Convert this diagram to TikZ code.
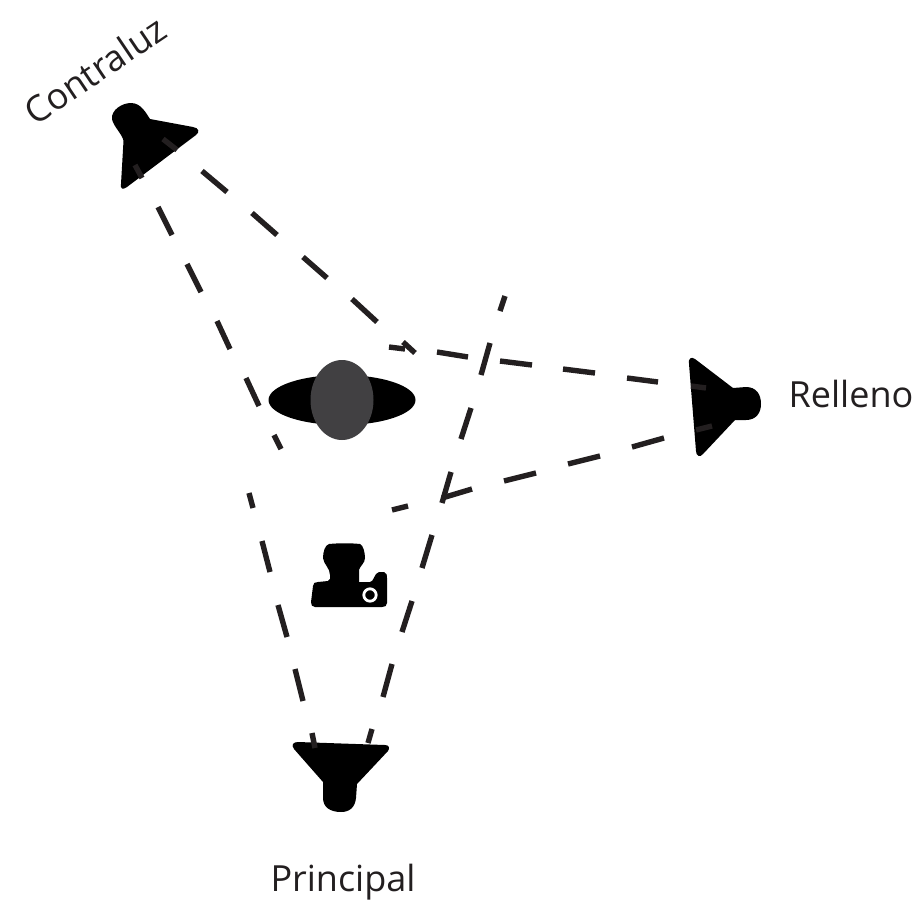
\documentclass[tikz,border=0pt]{standalone}
\usepackage{fontspec}
\setmainfont{Open Sans}
\definecolor{dashc}{HTML}{231F20}
\definecolor{headc}{HTML}{414042}
\tikzset{
  beam/.style={draw=dashc,line width=5.4pt},
  solidblack/.style={fill=black,draw=none},
  lbl/.style={font=\fontsize{36}{44}\selectfont,text=dashc,inner sep=0pt},
}
\begin{document}
\begin{tikzpicture}[x=1pt,y=-1pt]
\useasboundingbox (0,0) rectangle (923,905);
\fill[white] (0,0) rectangle (923,905);
% lamps
\path[solidblack] (150,119) -- (193,127) .. controls (199,128) and (200,132) .. (196,135) -- (127,187) .. controls (123,190) and (120,189) .. (121,184) -- (123.5,141) .. controls (123,135) and (113,126) .. (112,119) .. controls (111,110) and (122,103) .. (131,103) .. controls (141,103) and (146,113) .. (150,119) -- cycle;
\path[solidblack] (733,388) -- (695,359) .. controls (691,356) and (688,359) .. (689,364) -- (696,451) .. controls (696,456) and (700,458) .. (703,454) -- (735,420) -- (746,420) .. controls (756,420) and (761,413) .. (761,404) .. controls (761,394) and (756,387) .. (746,387) -- cycle;
\path[solidblack] (298,742) -- (385,745) .. controls (389,745) and (390,748) .. (388,751) -- (357,784) -- (356,798) .. controls (355,807) and (350,812) .. (341,812) .. controls (330,812) and (323,807) .. (323,798) -- (323,782) -- (294,749) .. controls (291,745) and (293,742) .. (298,742) -- cycle;
% camera
\path[solidblack] (329,544) .. controls (340,543) and (350,543) .. (360,544) .. controls (363,545) and (365,552) .. (365,558) .. controls (365,563) and (360,566) .. (359,570) -- (359,582) -- (370,582) .. controls (374,582) and (374,573) .. (379,572) -- (384,572) .. controls (387,573) and (387,575) .. (387,578) -- (387,603) .. controls (387,606) and (385,607) .. (382,607) -- (315,607) .. controls (312,607) and (311,605) .. (311,602) -- (313,586) .. controls (313,583) and (315,582) .. (318,582) -- (328,581) .. controls (331,580) and (330,578) .. (330,575) .. controls (330,568) and (324,565) .. (323,558) .. controls (323,552) and (325,545) .. (329,544) -- cycle;
\draw[white,line width=2.8pt] (370,595) circle (6.2);
% subject
\path[solidblack] (342,400) ellipse (73.5 and 25);
\path[fill=headc] (342,400) ellipse (31.5 and 40);
% beams
\foreach \xa/\ya/\xb/\yb in {
  163/139/177/150, 202/171/227/192, 252/213/277/235, 303/257/327/278, 352/299/377/322, 403/342/415/353,
  135/165/142/178, 158/207/172/235, 187/264/201/292, 217/321/230/349, 246/378/259/406, 274/435/281/449,
  706/388/691/386, 658/382/627/378, 595/373/563/369, 532/365/500/361, 468/357/437/352, 405/349/389/347,
  712/426/696/430, 664/438/632/447, 600/456/568/464, 536/473/504/481, 472/489/442/498, 408/506/392/510,
  312/733/315/748, 295/669/303/701, 278/605/287/637, 262/541/270/572, 249/493/253/508,
  372/729/368/743, 392/664/383/697, 412/601/402/632, 432/535/422/568, 451/472/442/503, 471/408/461/439, 490/343/481/375, 505/296/500/311
}{
  \draw[beam] (\xa,\ya) -- (\xb,\yb);
}
% labels
\node[lbl,rotate=34] (contraluz) at (95,70) {Contraluz};
\node[lbl] (relleno) at (851,394) {Relleno};
\node[lbl] (principal) at (343,882) {Principal};
\end{tikzpicture}
\end{document}
